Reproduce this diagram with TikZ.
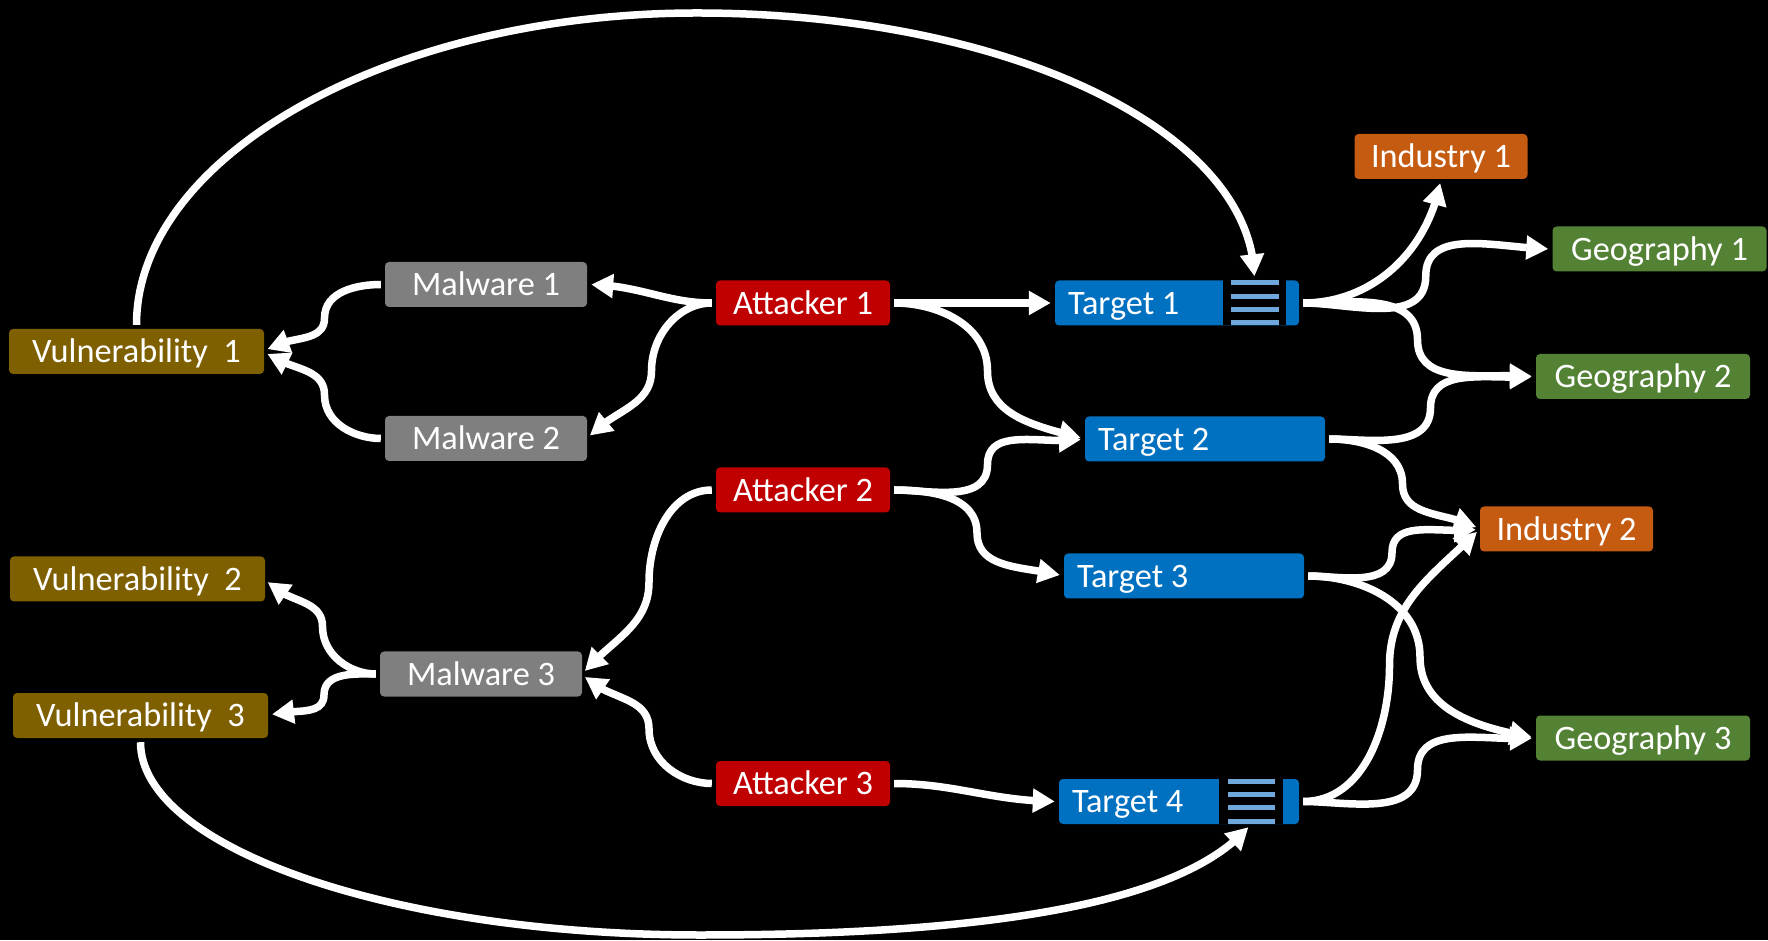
\documentclass[tikz,border=0pt]{standalone}
\usepackage{fontspec}
\setmainfont{Carlito}
\usetikzlibrary{arrows.meta,bending,calc}
\definecolor{vulnc}{HTML}{7F6000}
\definecolor{malc}{HTML}{7F7F7F}
\definecolor{attc}{HTML}{C00000}
\definecolor{tarc}{HTML}{0070C0}
\definecolor{indc}{HTML}{C55A11}
\definecolor{geoc}{HTML}{548235}
\definecolor{stripec}{HTML}{70A8DE}
\begin{document}
\begin{tikzpicture}[x=1pt,y=1pt,
  box/.style={rounded corners=4pt, minimum height=45pt, inner xsep=0pt, inner ysep=0pt,
    text=white, font=\fontsize{34.3}{40}\selectfont, text height=30.9pt, text depth=8.6pt},
  vuln/.style={box, fill=vulnc, minimum width=255pt},
  mal/.style={box, fill=malc, minimum width=202pt},
  att/.style={box, fill=attc, minimum width=174pt},
  tgt/.style={box, fill=tarc, inner xsep=13pt},
  ind/.style={box, fill=indc, minimum width=173pt},
  geo/.style={box, fill=geoc, minimum width=214pt},
  panel/.style={fill=black, minimum height=45pt, inner sep=0pt},
  stripe/.style={fill=stripec},
  conn/.style={draw=white, line width=7.5pt, shorten <=4pt, shorten >=4pt,
    -{Triangle[length=22pt,width=23pt,flex]}},
]
\fill[black] (0,0) rectangle (1768,940);
\useasboundingbox (0,0) rectangle (1768,940);

% nodes
\node[vuln] (v1) at (136.5,588.5) {Vulnerability~~1};
\node[vuln] (v2) at (137.5,361) {Vulnerability~~2};
\node[vuln] (v3) at (140.5,224.5) {Vulnerability~~3};
\node[mal] (m1) at (486,655.5) {Malware 1};
\node[mal] (m2) at (486,501.5) {Malware 2};
\node[mal] (m3) at (481,266) {Malware 3};
\node[att] (a1) at (803,637) {Attacker 1};
\node[att] (a2) at (803,450) {Attacker 2};
\node[att] (a3) at (803,156.5) {Attacker 3};
\node[tgt] (t1) at (1177,637) {\makebox[218pt][l]{Target 1}};
\node[tgt] (t2) at (1205,501) {\makebox[214pt][l]{Target 2}};
\node[tgt] (t3) at (1184,364) {\makebox[214pt][l]{Target 3}};
\node[tgt] (t4) at (1179,138.5) {\makebox[214pt][l]{Target 4}};
\node[ind] (i1) at (1441,783.5) {Industry 1};
\node[ind] (i2) at (1566.5,411) {Industry 2};
\node[geo] (g1) at (1659.5,691) {Geography 1};
\node[geo] (g2) at (1643,563.5) {Geography 2};
\node[geo] (g3) at (1643,202) {Geography 3};

% striped panels on targets 1 and 4
\node[panel, minimum width=63pt] (s1) at (1254.5,637) {};
\node[panel, minimum width=64pt] (s4) at (1251,138.5) {};
\foreach \k in {0,...,3} {
  \fill[stripe] ($(s1.north)+(-24,-\k*13.333)$) rectangle ++(48,-5);
  \fill[stripe] ($(s4.north)+(-23.5,-\k*13.333)$) rectangle ++(47,-5);
}

% big arcs
\coordinate (ptop) at (697,927);
\coordinate (pbot) at (700,5);
\draw[conn] (v1.north) .. controls +(0,172) and +(-309,0) .. (ptop)
  .. controls +(309,0) and +(0,150) .. (s1.north);
\draw[conn] (v3.south) .. controls +(0,-109) and +(-309,0) .. (pbot)
  .. controls +(300,0) and +(-64,-77) .. (s4.south);

% left side
\draw[conn] (a1.west) to[out=180,in=0] (m1.east);
\draw[conn] (a1.west) to[out=180,in=90] ($(a1.west)!.5!(m2.east)$) to[out=-90,in=50] (m2.east);
\draw[conn] (m1.west) to[out=180,in=90] ($(m1.west)!.5!(v1.east)$) to[out=-90,in=40] (v1.east);
\draw[conn] (m2.west) to[out=180,in=-90] ($(m2.west)!.5!(v1.east)$) to[out=90,in=-40] (v1.east);
\draw[conn] (m3.west) to[out=180,in=-90] ($(m3.west)!.5!(v2.east)$) to[out=90,in=-55] (v2.east);
\draw[conn] (m3.west) to[out=180,in=90] ($(m3.west)!.5!(v3.east)$) to[out=-90,in=20] (v3.east);
\draw[conn] (a2.west) to[out=180,in=90] ($(a2.west)!.5!(m3.east)$) to[out=-90,in=50] (m3.east);
\draw[conn] (a3.west) to[out=180,in=-90] ($(a3.west)!.5!(m3.east)$) to[out=90,in=-50] (m3.east);

% middle
\draw[conn] (a1.east) -- (t1.west);
\draw[conn] (a1.east) to[out=0,in=90] ($(a1.east)!.5!(t2.west)$) to[out=-90,in=165] (t2.west);
\draw[conn] (a2.east) to[out=0,in=-90] ($(a2.east)!.5!(t2.west)$) to[out=90,in=190] (t2.west);
\draw[conn] (a2.east) to[out=0,in=90] ($(a2.east)!.5!(t3.west)$) to[out=-90,in=165] (t3.west);
\draw[conn] (a3.east) to[out=0,in=180] (t4.west);

% right side
\draw[conn] (t1.east) to[out=0,in=-100] (i1.south);
\draw[conn] (t1.east) to[out=0,in=-90] ($(t1.east)!.5!(g1.west)$) to[out=90,in=180] (g1.west);
\draw[conn] (t1.east) to[out=0,in=90] ($(t1.east)!.5!(g2.west)$) to[out=-90,in=175] (g2.west);
\draw[conn] (t2.east) to[out=0,in=-90] ($(t2.east)!.5!(g2.west)$) to[out=90,in=185] (g2.west);
\draw[conn] (t2.east) to[out=0,in=90] ($(t2.east)!.5!(i2.west)$) to[out=-90,in=150] (i2.west);
\draw[conn] (t3.east) to[out=0,in=-90] ($(t3.east)!.5!(i2.west)$) to[out=90,in=190] (i2.west);
\draw[conn] (t3.east) to[out=0,in=90] ($(t3.east)!.5!(g3.west)$) to[out=-90,in=170] (g3.west);
\draw[conn] (t4.east) to[out=0,in=-90] ($(t4.east)!.5!(i2.west)$) to[out=90,in=225] (i2.west);
\draw[conn] (t4.east) to[out=0,in=-90] ($(t4.east)!.5!(g3.west)$) to[out=90,in=185] (g3.west);
\end{tikzpicture}
\end{document}
